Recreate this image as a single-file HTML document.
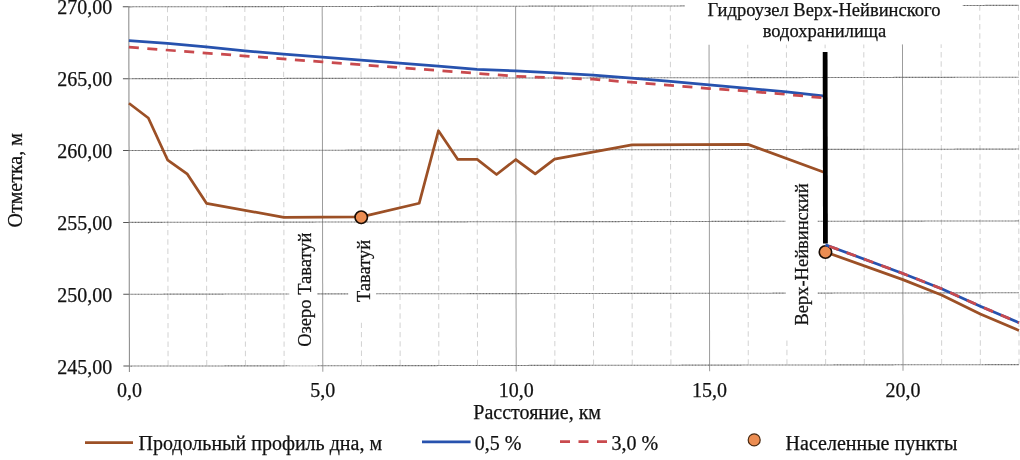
<!DOCTYPE html>
<html><head><meta charset="utf-8"><title>Продольный профиль</title>
<style>
html,body{margin:0;padding:0;background:#fff;}
body{width:1020px;height:460px;overflow:hidden;position:relative;}
svg{position:absolute;left:0;top:0;will-change:transform;}
text{font-family:"Liberation Serif","Noto Serif CJK SC",serif;fill:#111;stroke:#111;stroke-width:0.25px;}
.mn{stroke:#d2d2d2;stroke-width:1;stroke-dasharray:5.4 3.9;}
.mj{stroke:#9c9c9c;stroke-width:1;}
.hz{stroke:#6a6a6a;stroke-width:1.1;stroke-dasharray:1.1 0.35;}
.ax{stroke:#858585;stroke-width:1;}
.tk{stroke:#555;stroke-width:1;}
.br{fill:none;stroke:#9c5026;stroke-width:2.75;stroke-linejoin:round;}
.bl{fill:none;stroke:#2752ae;stroke-width:2.75;stroke-linejoin:round;}
.rd{fill:none;stroke:#c94a4e;stroke-width:2.75;stroke-dasharray:10 8.5;stroke-linecap:butt;}
.mk{fill:#ec8d52;stroke:#1a0d05;stroke-width:1.6;}
.t20{font-size:20px;}
.t18{font-size:18.5px;}
</style></head>
<body>
<svg width="1020" height="460" viewBox="0 0 1020 460">
<g transform="rotate(-0.094 574 186)">
<line x1="167.78" y1="6.1" x2="167.78" y2="365.35" class="mn"/>
<line x1="206.46" y1="6.1" x2="206.46" y2="365.35" class="mn"/>
<line x1="245.14" y1="6.1" x2="245.14" y2="365.35" class="mn"/>
<line x1="283.82" y1="6.1" x2="283.82" y2="365.35" class="mn"/>
<line x1="361.18" y1="6.1" x2="361.18" y2="365.35" class="mn"/>
<line x1="399.86" y1="6.1" x2="399.86" y2="365.35" class="mn"/>
<line x1="438.54" y1="6.1" x2="438.54" y2="365.35" class="mn"/>
<line x1="477.22" y1="6.1" x2="477.22" y2="365.35" class="mn"/>
<line x1="554.58" y1="6.1" x2="554.58" y2="365.35" class="mn"/>
<line x1="593.26" y1="6.1" x2="593.26" y2="365.35" class="mn"/>
<line x1="631.94" y1="6.1" x2="631.94" y2="365.35" class="mn"/>
<line x1="670.62" y1="6.1" x2="670.62" y2="365.35" class="mn"/>
<line x1="747.98" y1="6.1" x2="747.98" y2="365.35" class="mn"/>
<line x1="786.66" y1="6.1" x2="786.66" y2="365.35" class="mn"/>
<line x1="825.34" y1="6.1" x2="825.34" y2="365.35" class="mn"/>
<line x1="864.02" y1="6.1" x2="864.02" y2="365.35" class="mn"/>
<line x1="941.38" y1="6.1" x2="941.38" y2="365.35" class="mn"/>
<line x1="980.06" y1="6.1" x2="980.06" y2="365.35" class="mn"/>
<line x1="1018.74" y1="6.1" x2="1018.74" y2="365.35" class="mn"/>
<line x1="322.5" y1="6.1" x2="322.5" y2="371.35" class="mj"/>
<line x1="515.9" y1="6.1" x2="515.9" y2="371.35" class="mj"/>
<line x1="709.3" y1="6.1" x2="709.3" y2="371.35" class="mj"/>
<line x1="902.7" y1="6.1" x2="902.7" y2="371.35" class="mj"/>
<line x1="129.1" y1="6.1" x2="1018.74" y2="6.1" class="hz"/>
<line x1="123.1" y1="6.1" x2="129.1" y2="6.1" class="tk"/>
<line x1="129.1" y1="77.95" x2="1018.74" y2="77.95" class="hz"/>
<line x1="123.1" y1="77.95" x2="129.1" y2="77.95" class="tk"/>
<line x1="129.1" y1="149.8" x2="1018.74" y2="149.8" class="hz"/>
<line x1="123.1" y1="149.8" x2="129.1" y2="149.8" class="tk"/>
<line x1="129.1" y1="221.65" x2="1018.74" y2="221.65" class="hz"/>
<line x1="123.1" y1="221.65" x2="129.1" y2="221.65" class="tk"/>
<line x1="129.1" y1="293.5" x2="1018.74" y2="293.5" class="hz"/>
<line x1="123.1" y1="293.5" x2="129.1" y2="293.5" class="tk"/>
<line x1="129.1" y1="365.35" x2="1018.74" y2="365.35" class="hz"/>
<line x1="123.1" y1="365.35" x2="129.1" y2="365.35" class="tk"/>
<line x1="129.1" y1="6.1" x2="129.1" y2="371.35" class="ax"/>
<!-- white label boxes -->
<rect x="685" y="-5" width="278" height="50" fill="#fff"/>
<rect x="289" y="224" width="28" height="141" fill="#fff"/>
<rect x="348" y="224.5" width="28" height="96.5" fill="#fff"/>
<rect x="785.5" y="169" width="32" height="169" fill="#fff"/>
<!-- series -->
<polyline class="br" points="129.1,102.52 148.44,117.32 167.78,159.57 187.12,173.22 206.46,202.68 283.82,216.91 361.18,216.48 419.2,202.97 438.54,130.54 457.88,159.28 477.22,159.28 496.56,174.37 515.9,159.43 535.24,173.8 554.58,159.14 631.94,145.06 747.98,144.63 825.34,173.22"/>
<polyline class="br" points="825.34,252.4 902.7,280.14 941.38,295.51 980.06,314.62 1018.74,331.15"/>
<polyline class="bl" points="129.1,40.01 167.78,42.6 206.46,46.34 245.14,50.36 283.82,53.66 322.5,56.68 361.18,59.7 399.86,62.86 438.54,65.88 477.22,69.18 515.9,70.76 554.58,72.92 593.26,75.08 631.94,78.24 670.62,81.54 709.3,85.13 747.98,88.73 786.66,92.18 825.34,96.63"/>
<polyline class="rd" points="129.1,46.48 322.5,61.42 515.9,76.23 593.26,79.24 709.3,88.73 747.98,91.46 786.66,94.76 825.34,98.5"/>
<line x1="825.34" y1="52.5" x2="825.34" y2="244" stroke="#000" stroke-width="4.8"/>
<circle class="mk" cx="361.18" cy="216.91" r="6.2"/>
<circle class="mk" cx="825.34" cy="252.4" r="6.2"/>
<polyline class="bl" points="825.34,245.22 902.7,273.96 941.38,289.33 980.06,306.86 1018.74,323.39"/>
<polyline class="rd" style="stroke-dashoffset:14.5" points="825.34,245.22 902.7,273.96 941.38,289.33 980.06,306.86 1018.74,323.39"/>
</g>
<!-- y tick labels -->
<text class="t20" x="112.3" y="14.35" text-anchor="end">270,00</text>
<text class="t20" x="112.3" y="86.18" text-anchor="end">265,00</text>
<text class="t20" x="112.3" y="158.01" text-anchor="end">260,00</text>
<text class="t20" x="112.3" y="229.84" text-anchor="end">255,00</text>
<text class="t20" x="112.3" y="301.67" text-anchor="end">250,00</text>
<text class="t20" x="112.3" y="373.5" text-anchor="end">245,00</text>
<text class="t20" x="129.4" y="397" text-anchor="middle">0,0</text>
<text class="t20" x="322.8" y="397" text-anchor="middle">5,0</text>
<text class="t20" x="516.2" y="397" text-anchor="middle">10,0</text>
<text class="t20" x="709.6" y="397" text-anchor="middle">15,0</text>
<text class="t20" x="903" y="397" text-anchor="middle">20,0</text>
<text class="t20" x="473.3" y="419">Расстояние, км</text>
<text class="t20" transform="translate(21.6 180.3) rotate(-90)" text-anchor="middle">Отметка, м</text>
<text class="t18" x="824" y="15.6" text-anchor="middle">Гидроузел Верх-Нейвинского</text>
<text class="t18" x="824.5" y="36.7" text-anchor="middle">водохранилища</text>
<text class="t18" transform="translate(310.8 346.8) rotate(-90)">Озеро Таватуй</text>
<text class="t18" transform="translate(370.3 302) rotate(-90)">Таватуй</text>
<text class="t18" transform="translate(807.8 325.6) rotate(-90)">Верх-Нейвинский</text>
<!-- legend -->
<line x1="85" y1="442.5" x2="133" y2="442.5" stroke="#9c5026" stroke-width="2.75"/>
<text class="t20" x="138.5" y="450">Продольный профиль дна, м</text>
<line x1="422" y1="441.8" x2="470.6" y2="441.8" stroke="#2752ae" stroke-width="2.75"/>
<text class="t20" x="474.8" y="450">0,5 %</text>
<line x1="560" y1="441.6" x2="607" y2="441.6" stroke="#c94a4e" stroke-width="2.75" stroke-dasharray="10 8.5"/>
<text class="t20" x="611.6" y="450">3,0 %</text>
<circle cx="754.2" cy="439.9" r="6" fill="#ec8d52" stroke="#4a2a12" stroke-width="1.2"/>
<text class="t20" x="785.6" y="450">Населенные пункты</text>
</svg>
</body></html>
